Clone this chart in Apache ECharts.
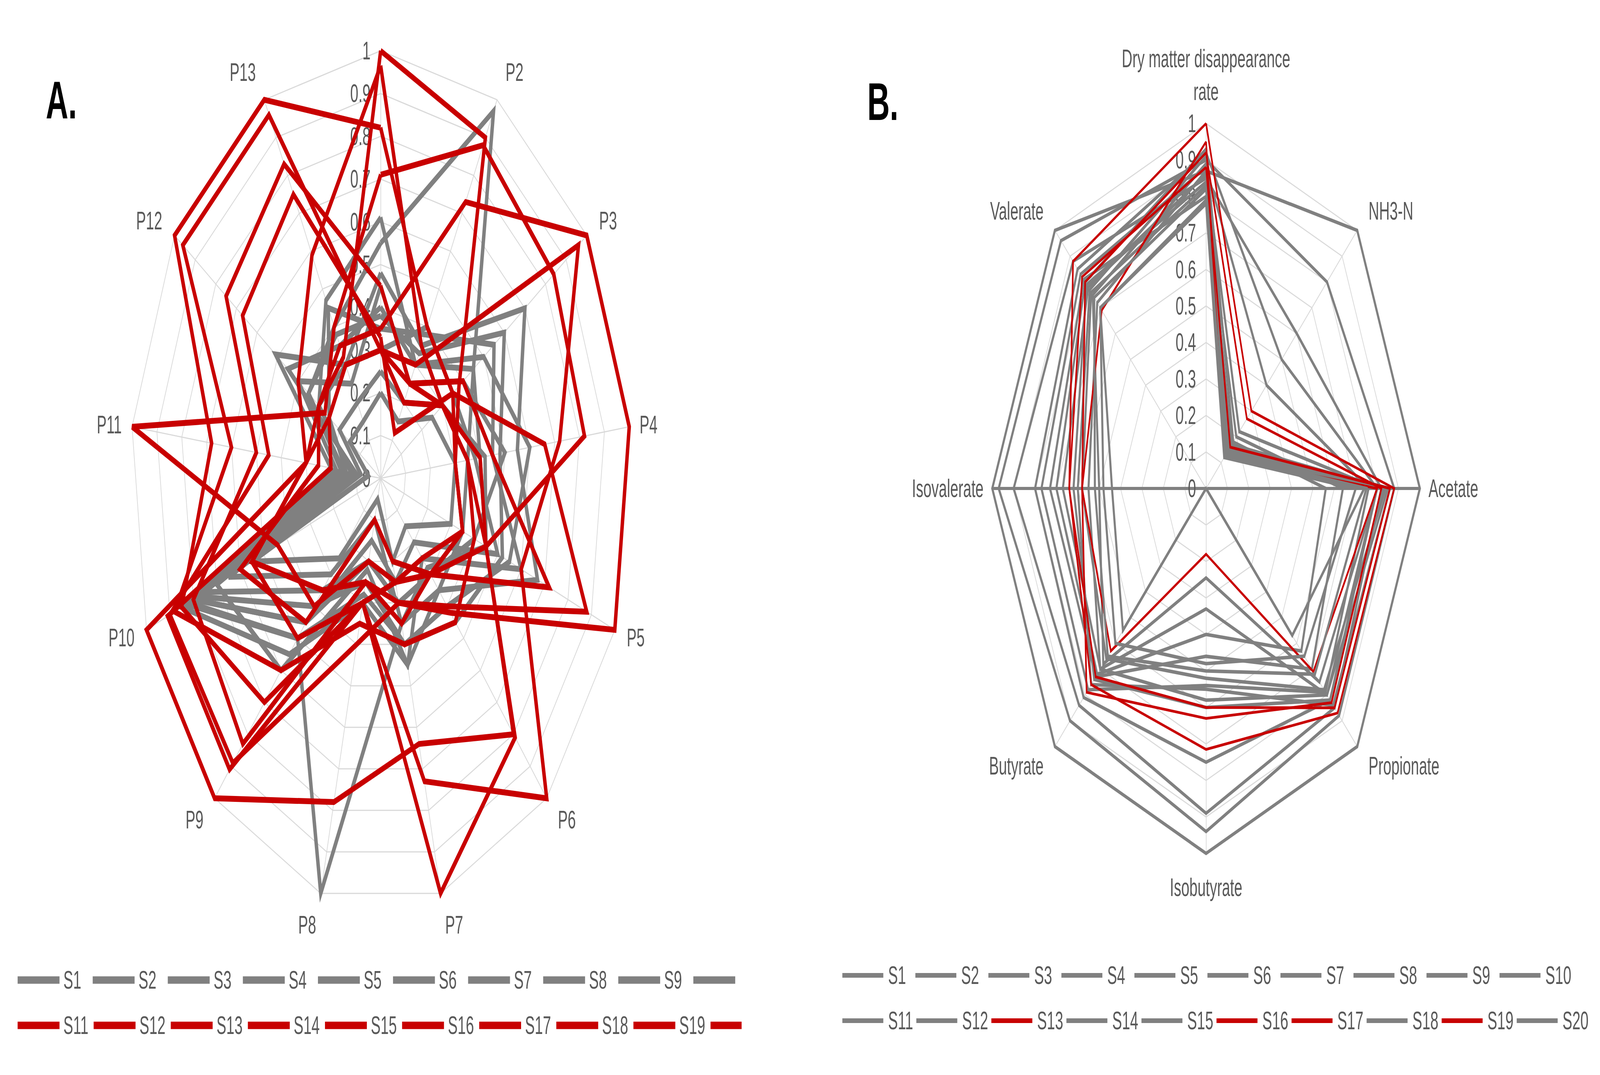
<!DOCTYPE html>
<html>
<head>
<meta charset="utf-8">
<script src="https://cdn.jsdelivr.net/npm/echarts@6/dist/echarts.min.js"></script>
<style>
html,body{margin:0;padding:0;background:#ffffff;width:100vw;height:100vh;overflow:hidden;}
#stage{position:absolute;left:0;top:0;width:6990px;height:2751px;transform-origin:0 0;background:#ffffff;}
#chartA{position:absolute;left:0;top:0;width:3240px;height:2751px;overflow:hidden;}
#chartB{position:absolute;left:3240px;top:0;width:3750px;height:2751px;overflow:hidden;}
</style>
</head>
<body>
<div id="stage">
  <div id="chartA"></div>
  <div id="chartB"></div>
</div>
<script>
// ---------------- DATA ----------------
const categoriesA = ['P1','P2','P3','P4','P5','P6','P7','P8','P9','P10','P11','P12','P13'];
const categoriesB = ['Dry matter disappearance rate','NH3-N','Acetate','Propionate','Isobutyrate','Butyrate','Isovalerate','Valerate'];
const tickLabels = ['0','0.1','0.2','0.3','0.4','0.5','0.6','0.7','0.8','0.9','1'];
const seriesNames = ['S1','S2','S3','S4','S5','S6','S7','S8','S9','S10','S11','S12','S13','S14','S15','S16','S17','S18','S19','S20'];
const redSeriesA = ['S11','S12','S13','S14','S15','S16','S17','S18','S19','S20'];
const redSeriesB = ['S13','S16','S17','S19'];
// legend labels of panel A that fall outside the panel in the reference
const hiddenLegendLabelsA = ['S10','S20'];

// Panel A values, in order P1..P13
const A_S1  = [0.55, 0.97, 0.45, 0.40, 0.45, 0.30, 0.30, 0.20, 0.45, 0.80, 0.15, 0.35, 0.40];
const A_S2  = [0.48, 0.35, 0.70, 0.55, 0.67, 0.35, 0.35, 1.00, 0.50, 0.82, 0.12, 0.30, 0.30];
const A_S3  = [0.40, 0.30, 0.50, 0.60, 0.55, 0.40, 0.40, 0.25, 0.40, 0.78, 0.10, 0.45, 0.35];
const A_S4  = [0.35, 0.38, 0.55, 0.45, 0.60, 0.25, 0.45, 0.30, 0.55, 0.85, 0.14, 0.25, 0.45];
const A_S5  = [0.45, 0.25, 0.40, 0.50, 0.40, 0.30, 0.30, 0.20, 0.35, 0.75, 0.18, 0.40, 0.25];
const A_S6  = [0.30, 0.40, 0.35, 0.38, 0.50, 0.20, 0.25, 0.15, 0.45, 0.80, 0.20, 0.51, 0.30];
const A_S7  = [0.61, 0.30, 0.45, 0.35, 0.35, 0.35, 0.45, 0.22, 0.60, 0.70, 0.12, 0.30, 0.47];
const A_S8  = [0.25, 0.20, 0.30, 0.42, 0.45, 0.28, 0.35, 0.10, 0.30, 0.65, 0.08, 0.20, 0.20];
const A_S9  = [0.38, 0.33, 0.60, 0.48, 0.52, 0.45, 0.40, 0.28, 0.50, 0.83, 0.16, 0.35, 0.38];
const A_S10 = [0.20, 0.15, 0.25, 0.30, 0.30, 0.15, 0.20, 0.05, 0.25, 0.55, 0.05, 0.15, 0.15];
const A_S11 = [1.00, 0.90, 0.38, 0.30, 0.35, 0.30, 0.20, 0.10, 0.45, 0.60, 0.25, 0.30, 0.32];
const A_S12 = [0.965, 0.35, 0.30, 0.40, 0.45, 0.81, 1.00, 0.30, 0.50, 0.55, 0.30, 0.40, 0.59];
const A_S13 = [0.82, 0.40, 0.35, 0.30, 0.35, 0.25, 0.25, 0.30, 0.70, 0.85, 0.68, 1.00, 1.00];
const A_S14 = [0.30, 0.20, 0.30, 0.35, 0.40, 0.45, 0.40, 0.35, 0.60, 0.88, 0.60, 0.96, 0.96];
const A_S15 = [0.45, 0.25, 0.40, 0.45, 0.72, 0.30, 0.35, 0.25, 0.83, 0.80, 0.50, 0.75, 0.83];
const A_S16 = [0.33, 0.12, 0.35, 0.66, 0.88, 0.40, 0.30, 0.40, 0.89, 0.90, 0.45, 0.67, 0.75];
const A_S17 = [0.71, 0.88, 0.84, 0.82, 0.45, 0.30, 0.25, 0.20, 0.40, 0.44, 1.00, 0.27, 0.40];
const A_S18 = [0.30, 0.25, 0.30, 0.35, 0.45, 0.80, 0.64, 0.78, 1.00, 1.00, 0.30, 0.25, 0.30];
const A_S19 = [0.35, 0.73, 1.00, 1.00, 1.00, 0.42, 0.30, 0.25, 0.35, 0.55, 0.30, 0.30, 0.35];
const A_S20 = [0.30, 0.30, 0.96, 0.72, 0.60, 1.00, 0.73, 0.30, 0.91, 0.91, 0.20, 0.25, 0.30];

// Panel B values, in order DM, NH3-N, Acetate, Propionate, Isobutyrate, Butyrate, Isovalerate, Valerate
const B_S1  = [0.87, 1.00, 1.00, 1.00, 1.00, 1.00, 1.00, 1.00];
const B_S2  = [0.90, 0.80, 0.88, 0.88, 0.94, 0.90, 0.97, 0.96];
const B_S3  = [0.85, 0.60, 0.82, 0.85, 0.89, 0.84, 0.90, 0.88];
const B_S4  = [0.92, 0.50, 0.80, 0.82, 0.75, 0.81, 0.80, 0.85];
const B_S5  = [0.88, 0.40, 0.76, 0.79, 0.54, 0.78, 0.77, 0.83];
const B_S6  = [0.80, 0.20, 0.64, 0.70, 0.46, 0.73, 0.73, 0.81];
const B_S7  = [0.93, 0.18, 0.56, 0.63, 0.40, 0.72, 0.70, 0.80];
const B_S8  = [0.86, 0.16, 0.85, 0.80, 0.33, 0.70, 0.67, 0.78];
const B_S9  = [0.89, 0.15, 0.80, 0.75, 0.245, 0.68, 0.50, 0.75];
const B_S10 = [0.79, 0.14, 0.74, 0.57, 0.00, 0.55, 0.44, 0.70];
const B_S11 = [0.84, 0.17, 0.83, 0.82, 0.60, 0.74, 0.62, 0.79];
const B_S12 = [0.91, 0.16, 0.86, 0.84, 0.55, 0.76, 0.60, 0.77];
const B_S13 = [1.00, 0.30, 0.88, 0.87, 0.715, 0.76, 0.64, 0.88];
const B_S14 = [0.87, 0.22, 0.80, 0.80, 0.58, 0.70, 0.55, 0.72];
const B_S15 = [0.83, 0.15, 0.84, 0.78, 0.52, 0.66, 0.58, 0.76];
const B_S16 = [0.92, 0.27, 0.82, 0.83, 0.63, 0.79, 0.58, 0.80];
const B_S17 = [0.95, 0.12, 0.80, 0.71, 0.18, 0.63, 0.58, 0.69];
const B_S18 = [0.82, 0.13, 0.75, 0.72, 0.50, 0.65, 0.52, 0.74];
const B_S19 = [0.88, 0.16, 0.86, 0.85, 0.60, 0.73, 0.64, 0.82];
const B_S20 = [0.78, 0.12, 0.70, 0.65, 0.48, 0.60, 0.48, 0.70];

const valuesA = [A_S1,A_S2,A_S3,A_S4,A_S5,A_S6,A_S7,A_S8,A_S9,A_S10,A_S11,A_S12,A_S13,A_S14,A_S15,A_S16,A_S17,A_S18,A_S19,A_S20];
const valuesB = [B_S1,B_S2,B_S3,B_S4,B_S5,B_S6,B_S7,B_S8,B_S9,B_S10,B_S11,B_S12,B_S13,B_S14,B_S15,B_S16,B_S17,B_S18,B_S19,B_S20];

// ---------------- STAGE: designed at 6990 x 2751, fitted to the window ----------------
const W0 = 6990, H0 = 2751;
const stage = document.getElementById('stage');
const sx = window.innerWidth / W0, sy = window.innerHeight / H0;
if (Math.abs(sx - 1) > 1e-3 || Math.abs(sy - 1) > 1e-3) {
  stage.style.transform = 'scale(' + sx + ',' + sy + ')';
}

const FONT = '"Liberation Sans", Arial, sans-serif';
const GRAY = '#808080';
const RED = '#c80000';
const TXT = '#595959';
const GRID = '#d9d9d9';
const FS = 64;
const splitX = 3240;

// ECharts places radar indicators counter-clockwise; Excel goes clockwise.
function clockwise(arr) { return [arr[0]].concat(arr.slice(1).reverse()); }

function buildIndicators(cats, darkAxes, gapBase, gapExtra, gapTop, gapBottom) {
  const n = cats.length;
  return clockwise(cats).map(function (name, i) {
    const k = i === 0 ? 0 : n - i;
    const theta = k * 2 * Math.PI / n;
    const c = Math.cos(theta);
    let gap = gapBase + gapExtra * Math.abs(c);
    if (Math.abs(Math.sin(theta)) < 1e-6) gap = c > 0 ? gapTop : gapBottom;
    const o = { name: name, min: 0, max: 1, nameGap: gap };
    if (i === 0) o.axisLabel = { show: true };
    if (darkAxes && darkAxes.indexOf(name) >= 0) o.axisLine = { lineStyle: { color: GRAY, width: 8 } };
    return o;
  });
}

function buildSeries(values, redList, width, redWidth) {
  return seriesNames.map(function (name, i) {
    const isRed = redList.indexOf(name) >= 0;
    const c = isRed ? RED : GRAY;
    return {
      type: 'radar',
      name: name,
      symbol: 'none',
      silent: true,
      lineStyle: { color: c, width: isRed ? redWidth : width, join: 'miter' },
      itemStyle: { color: c },
      z: 2,
      data: [{ name: name, value: clockwise(values[i]) }]
    };
  });
}

function legendRow(names, left, top, iw, ih, gap, pad, hidden) {
  return {
    data: names,
    left: left,
    top: top,
    width: 6000,
    padding: 0,
    orient: 'horizontal',
    itemWidth: iw,
    itemHeight: ih,
    itemGap: gap,
    icon: 'rect',
    selectedMode: false,
    itemStyle: { borderWidth: 0 },
    formatter: function (name) { return hidden && hidden.indexOf(name) >= 0 ? '' : name; },
    textStyle: { color: TXT, fontSize: FS, fontFamily: FONT, width: 105, lineHeight: 80, padding: [0, 0, 0, pad] }
  };
}

function radarCommon(center, radius) {
  return {
    center: center,
    radius: radius,
    startAngle: 90,
    splitNumber: tickLabels.length - 1,
    shape: 'polygon',
    splitArea: { show: false },
    splitLine: { lineStyle: { color: GRID, width: 3 } },
    axisLine: { lineStyle: { color: GRID, width: 3 } },
    axisTick: { show: false },
    axisLabel: {
      show: false, color: TXT, fontSize: FS, fontFamily: FONT, margin: 44,
      showMinLabel: true, showMaxLabel: true,
      formatter: function (v) { return tickLabels[Math.round(v * 10)]; }
    }
  };
}

// ---------------- CHART A ----------------
const chartA = echarts.init(document.getElementById('chartA'), null, { renderer: 'svg' });
const radarA = radarCommon([1663, 1224], 1094);
radarA.indicator = buildIndicators(categoriesA, null, 40, 45, 40, 60);
radarA.axisName = {
  color: TXT, fontSize: FS, fontFamily: FONT,
  formatter: function (n) { return n === 'P1' ? '' : n; }
};
chartA.setOption({
  animation: false,
  backgroundColor: '#ffffff',
  graphic: [{
    type: 'text', left: 200, top: 188,
    style: { text: 'A.', fill: '#000000', font: 'bold 136px ' + FONT }
  }],
  legend: [
    legendRow(seriesNames.slice(0, 10), 77, 2468, 183, 19, 23, 12, hiddenLegendLabelsA),
    legendRow(seriesNames.slice(10, 20), 77, 2584, 183, 19, 23, 12, hiddenLegendLabelsA)
  ],
  radar: radarA,
  series: buildSeries(valuesA, redSeriesA, 15, 15)
});

// ---------------- CHART B ----------------
const chartB = echarts.init(document.getElementById('chartB'), null, { renderer: 'svg' });
const radarB = radarCommon([5269 - splitX, 1250], 934);
radarB.indicator = buildIndicators(categoriesB, ['Acetate', 'Isovalerate'], 38, 45, 40, 45);
radarB.axisName = {
  color: TXT, fontSize: FS, fontFamily: FONT, lineHeight: 84,
  formatter: function (n) { return n.replace(' rate', '\nrate'); }
};
chartB.setOption({
  animation: false,
  backgroundColor: '#ffffff',
  graphic: [{
    type: 'text', left: 3789 - splitX, top: 192,
    style: { text: 'B.', fill: '#000000', font: 'bold 136px ' + FONT }
  }],
  legend: [
    legendRow(seriesNames.slice(0, 10), 3680 - splitX, 2456, 179, 12, 14, 16, null),
    legendRow(seriesNames.slice(10, 20), 3680 - splitX, 2572, 179, 12, 14, 16, null)
  ],
  radar: radarB,
  series: buildSeries(valuesB, redSeriesB, 9, 7)
});
</script>
</body>
</html>
